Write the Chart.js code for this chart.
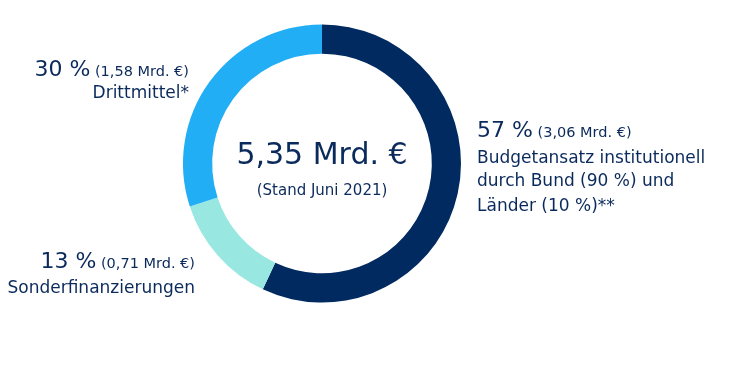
<!DOCTYPE html>
<html>
<head>
<meta charset="utf-8">
<script src="https://cdn.jsdelivr.net/npm/chart.js@4.4.0/dist/chart.umd.min.js"></script>
<style>
  html, body { margin: 0; padding: 0; background: #fff; }
  #wrap { width: 737px; height: 388px; position: relative; }
</style>
</head>
<body>
<div id="wrap"><canvas id="donut"></canvas></div>
<script>
var categories = ['Budgetansatz institutionell', 'Sonderfinanzierungen', 'Drittmittel*']
var shares = [57, 13, 30]
var amounts = ['3,06', '0,71', '1,58']
var colors = ['#002a60', '#98e8e1', '#22aef5']
var total = '5,35 Mrd. €'
var stand = '(Stand Juni 2021)'

var navy = '#0b2a5c'
var fontName = '"DejaVu Sans", sans-serif'

// labels outside the ring
var labelPlugin = {
    id: 'labels',
    afterDraw: function (chart) {
        var ctx = chart.ctx
        var meta = chart.getDatasetMeta(0)
        var arc = meta.data[0]
        var cx = arc.x, cy = arc.y

        ctx.save()
        ctx.fillStyle = navy
        ctx.textBaseline = 'alphabetic'

        // center
        ctx.textAlign = 'center'
        ctx.font = '30px ' + fontName
        ctx.fillText(total, cx, cy)
        ctx.font = '15px ' + fontName
        ctx.fillText(stand, cx, cy + 31)

        function pctLine(x, y, i, align) {
            var big = shares[i] + ' %'
            var small = ' (' + amounts[i] + ' Mrd. €)'
            ctx.font = '22px ' + fontName
            var wb = ctx.measureText(big).width
            ctx.font = '14.5px ' + fontName
            var ws = ctx.measureText(small).width
            var x0 = align === 'right' ? x - wb - ws : x
            ctx.textAlign = 'left'
            ctx.font = '22px ' + fontName
            ctx.fillText(big, x0, y)
            ctx.font = '14.5px ' + fontName
            ctx.fillText(small, x0 + wb, y)
        }

        // right: Budget
        pctLine(477, 137, 0, 'left')
        ctx.font = '17px ' + fontName
        ctx.textAlign = 'left'
        ctx.fillText('Budgetansatz institutionell', 477, 163)
        ctx.fillText('durch Bund (90 %) und', 477, 186)
        ctx.fillText('Länder (10 %)**', 477, 211)

        // left: Drittmittel
        pctLine(189, 76, 2, 'right')
        ctx.font = '17px ' + fontName
        ctx.textAlign = 'right'
        ctx.fillText(categories[2], 189, 98)

        // left: Sonderfinanzierungen
        pctLine(195, 268, 1, 'right')
        ctx.font = '17px ' + fontName
        ctx.textAlign = 'right'
        ctx.fillText(categories[1], 195, 293)

        ctx.restore()
    }
}

var ctxDonut = document.getElementById('donut')

var chartDonut = new Chart(ctxDonut, {
    type: 'doughnut',
    data: {
        labels: categories,
        datasets: [{
            data: shares,
            backgroundColor: colors,
            borderWidth: 0
        }]
    },
    options: {
        responsive: true,
        maintainAspectRatio: false,
        animation: false,
        cutout: '79%',
        layout: {
            padding: { top: 24, bottom: 85, left: 183, right: 276 }
        },
        plugins: {
            legend: { display: false },
            tooltip: { enabled: false }
        }
    },
    plugins: [labelPlugin]
})
</script>
</body>
</html>
